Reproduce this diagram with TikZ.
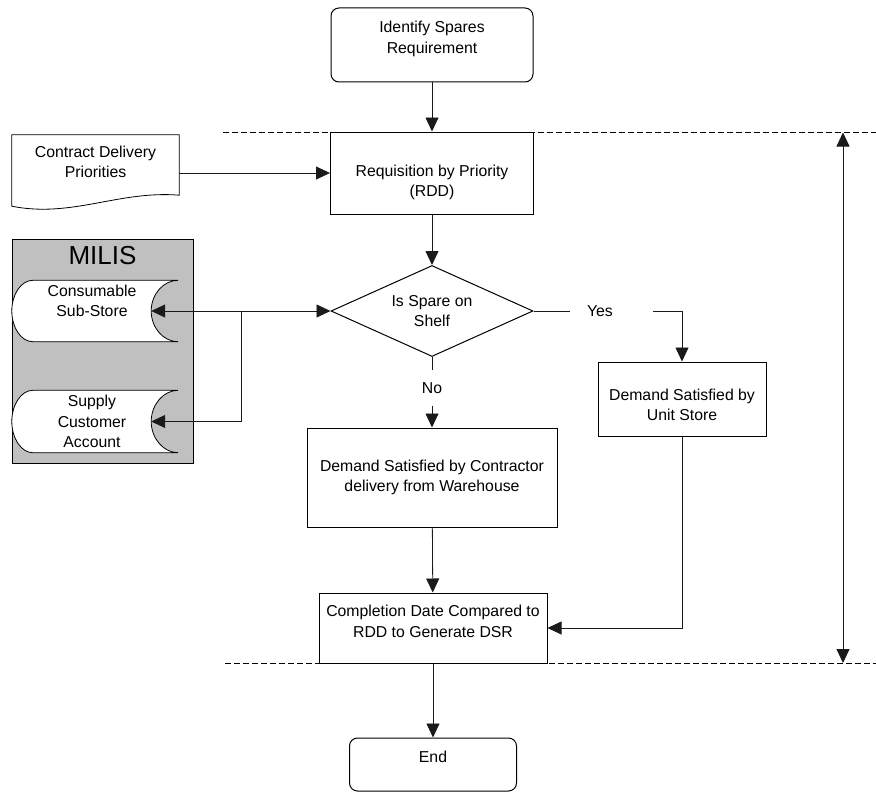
\documentclass[tikz,border=0pt]{standalone}
\usepackage{fontspec}
\setmainfont{Liberation Sans}
\usetikzlibrary{arrows.meta,positioning,shapes.geometric,backgrounds}
\definecolor{cLine}{HTML}{1A1A1A}
\definecolor{cPanel}{HTML}{C0C0C0}

\begin{document}
\begin{tikzpicture}[
  x=1pt, y=-1pt,
  font=\fontsize{15.8}{20.5}\selectfont,
  box/.style={draw, align=center, line width=1pt, inner sep=4pt},
  terminal/.style={box, rounded corners=8pt},
  decision/.style={box, diamond, aspect=2.2, inner sep=0pt},
  txt/.style={align=center, inner sep=0pt},
  arr/.style={-{Triangle[length=14pt, width=13pt]}, line width=0.8pt, cLine},
  twoway/.style={{Triangle[length=14pt, width=13pt]}-{Triangle[length=14pt, width=13pt]},
                 line width=0.8pt, cLine},
  link/.style={line width=0.8pt, cLine},
  band/.style={dash pattern=on 6pt off 3pt, line width=0.8pt},
  panel/.style={draw, fill=cPanel, line width=0.8pt},
  store/.style={draw, fill=white, line width=0.8pt},
]
\useasboundingbox (0,0) rectangle (876,792);

% ---------- main column ----------
\node[terminal, minimum width=202pt, minimum height=74pt, text depth=15pt]
  (start) at (432,45) {Identify Spares\\Requirement};
\node[box, minimum width=203pt, minimum height=82pt, text height=51pt]
  (req) at (432,173) {Requisition by Priority\\(RDD)};
\node[decision, minimum width=202pt, minimum height=91pt]
  (spare) at (432,311) {Is Spare on\\Shelf};
\node[box, minimum width=250pt, minimum height=99pt]
  (contractor) at (432,477.5) {Demand Satisfied by Contractor\\delivery from Warehouse};
\node[box, minimum width=168pt, minimum height=74pt, text height=44pt]
  (unit) at (682,399) {Demand Satisfied by\\Unit Store};
\node[box, minimum width=228pt, minimum height=70pt, text depth=13pt]
  (done) at (433,628) {Completion Date Compared to\\RDD to Generate DSR};
\node[terminal, minimum width=167pt, minimum height=53pt, text depth=15pt]
  (stop) at (433,764.5) {End};

% ---------- inputs on the left ----------
\node[txt, minimum width=167pt, minimum height=60pt, text depth=6pt]
  (cdp) at (95.5,165) {Contract Delivery\\Priorities};
\node[inner sep=0pt, font=\fontsize{26}{30}\selectfont]
  (milisname) at (102.5,256) {MILIS};
\node[txt, minimum width=118pt, minimum height=61pt, text depth=20pt]
  (cons) at (92,311) {Consumable\\Sub-Store};
\node[txt, minimum width=118pt, minimum height=62pt]
  (supply) at (92,421.5) {Supply\\Customer\\Account};

% ---------- outlines behind the texts ----------
\begin{scope}[on background layer]
  \node[panel, minimum width=181pt, minimum height=224pt] (milis) at (102.5,351) {};
  \foreach \s in {cons,supply}
    \draw[store] (\s.north west) -- ([xshift=27pt]\s.north east)
      .. controls +(-14.9,0) and +(0,-16.8) .. (\s.east)
      .. controls +(0,16.8) and +(-14.9,0) .. ([xshift=27pt]\s.south east)
      -- (\s.south west)
      .. controls +(-11.6,0) and +(0,16.8) .. ([xshift=-21pt]\s.west)
      .. controls +(0,-16.8) and +(-11.6,0) .. (\s.north west) -- cycle;
  \draw[store] (cdp.north west) -- (cdp.north east) -- (cdp.south east)
    .. controls +(-60,-5) and +(60,12) .. ([yshift=-11pt]cdp.south west) -- cycle;
\end{scope}

% ---------- branch labels ----------
\node[txt, text width=49pt, align=left, inner xsep=17pt] (yes) at (611.5,311) {Yes};
\node[txt, inner ysep=12pt] (no) at (432,388) {No};
\coordinate (split) at (241,311);

% ---------- arrows ----------
\draw[arr] (start) -- (req);
\draw[arr] (cdp.east |- req.west) -- (req.west);
\draw[arr] (req) -- (spare);
\draw[arr] (split) -- (spare.west);
\draw[arr] (split) -- (cons.east);
\draw[arr] (split) |- (supply.east);
\draw[link] (spare.east) -- (yes.west);
\draw[arr] (yes.east) -| (unit.north);
\draw[link] (spare.south) -- (no.north);
\draw[arr] (no.south) -- (contractor.north);
\draw[arr] (contractor) -- (done);
\draw[arr] (unit.south) |- (done.east);
\draw[arr] (done) -- (stop);

% ---------- measured span ----------
\coordinate (bandTL) at (223,132.5);
\coordinate (bandTR) at (876,132.5);
\coordinate (bandBL) at (225,663);
\coordinate (bandBR) at (876,663);
\coordinate (spanTop) at (843,132.5);
\coordinate (spanBot) at (843,663);
\draw[band] (bandTL) -- (bandTR);
\draw[band] (bandBL) -- (bandBR);
\draw[twoway] (spanTop) -- (spanBot);

\end{tikzpicture}
\end{document}
